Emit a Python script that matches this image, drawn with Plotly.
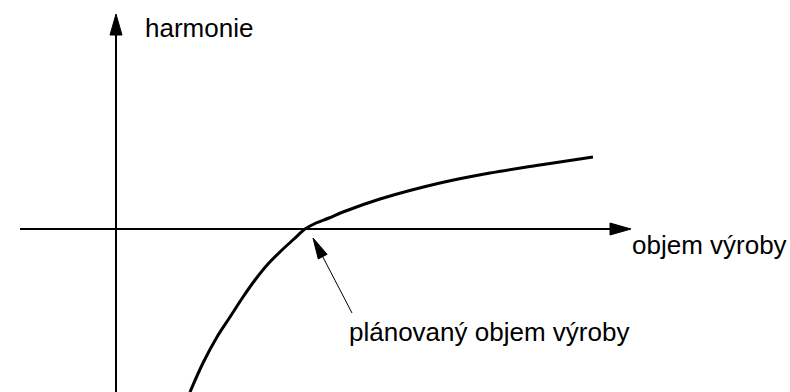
import numpy as np
import plotly.graph_objects as go

# ── Data (diagram units, 1 unit ~ 1 px, origin where the axes cross) ──────────
curve_x = [74, 87, 101, 114, 127, 139, 152, 166, 178, 189, 200, 213, 227, 264, 324, 374, 424, 477]
curve_y = [-163, -134, -108, -88, -68, -51, -35, -21, -10, 0, 6, 11, 17, 30, 46, 56, 64, 72]

x_label = "objem výroby"
y_label = "harmonie"
note_label = "plánovaný objem výroby"

X_RANGE = [-116, 674]
Y_RANGE = [-163, 229]

INK = "#000000"
FONT = dict(family="Liberation Sans, Arial, sans-serif", size=26, color=INK)


def arrow_head(tip, tail, length, width):
    """Filled triangle path pointing from tail towards tip."""
    tip = np.array(tip, float)
    d = tip - np.array(tail, float)
    d /= np.linalg.norm(d)
    n = np.array([-d[1], d[0]])
    base = tip - d * length
    a = base + n * width / 2
    b = base - n * width / 2
    return f"M{tip[0]},{tip[1]} L{a[0]},{a[1]} L{b[0]},{b[1]} Z"


fig = go.Figure(go.Scatter(
    x=curve_x, y=curve_y,
    mode="lines",
    line=dict(color=INK, width=3, shape="spline", smoothing=1.0),
    hoverinfo="skip",
))

# axes with arrows
x_tail, x_tip = (-96, 0), (515, 0)
y_tail, y_tip = (0, Y_RANGE[0]), (0, 215)
note_tail, note_tip = (236, -84), (197, -9)

shapes = []
for tail, tip, lw, hl, hw in [
    (x_tail, x_tip, 2, 21, 12),
    (y_tail, y_tip, 2, 21, 12),
    (note_tail, note_tip, 1, 21, 10),
]:
    d = np.array(tip, float) - np.array(tail, float)
    d /= np.linalg.norm(d)
    end = np.array(tip, float) - d * (hl - 2)
    shapes.append(dict(type="line", x0=tail[0], y0=tail[1], x1=end[0], y1=end[1],
                       line=dict(color=INK, width=lw)))
    shapes.append(dict(type="path", path=arrow_head(tip, tail, hl, hw),
                       fillcolor=INK, line=dict(color=INK, width=1)))

annotations = [
    dict(x=27, y=201, text=y_label, showarrow=False, xanchor="left", yanchor="middle", font=FONT),
    dict(x=514, y=-16, text=x_label, showarrow=False, xanchor="left", yanchor="middle", font=FONT),
    dict(x=231, y=-103, text=note_label, showarrow=False, xanchor="left", yanchor="middle", font=FONT),
]

fig.update_layout(
    width=790, height=392,
    margin=dict(l=0, r=0, t=0, b=0),
    paper_bgcolor="white", plot_bgcolor="white",
    showlegend=False,
    xaxis=dict(range=X_RANGE, visible=False, fixedrange=True),
    yaxis=dict(range=Y_RANGE, visible=False, fixedrange=True),
    shapes=shapes,
    annotations=annotations,
)

fig.write_html("out.html", config={"displayModeBar": False},
               post_script="document.body.style.margin='0';document.body.style.overflow='hidden';")
